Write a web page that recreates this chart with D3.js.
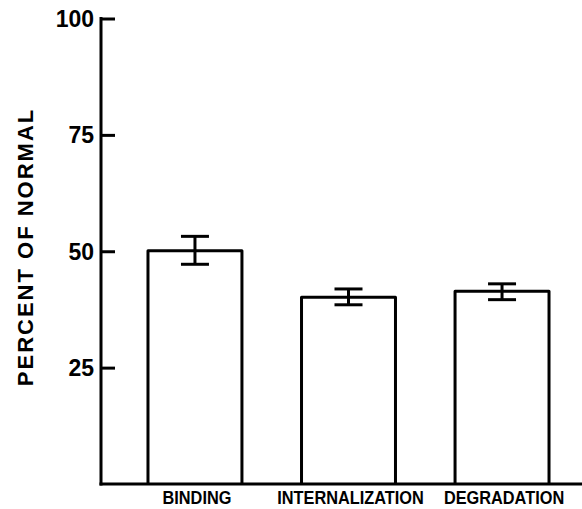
<!DOCTYPE html>
<html><head><meta charset="utf-8">
<script src="https://cdn.jsdelivr.net/npm/d3@7"></script>
<style>body{margin:0;background:#fff}svg{display:block}</style>
</head><body>
<svg id="c" width="582" height="509"></svg>
<script>
const categories = ["BINDING", "INTERNALIZATION", "DEGRADATION"];
const values = [50.1, 40.1, 41.4];
const errLow = [47.2, 38.5, 39.6];
const errHigh = [53.2, 41.9, 43.0];
const yTicks = [25, 50, 75, 100];
const yLabel = "PERCENT OF NORMAL";

const svg = d3.select("#c");
const axisX = 101;
const y = d3.scaleLinear().domain([0, 100]).range([484, 18.5]);
const x = d3.scaleBand().domain(categories).range([axisX, 596]).paddingInner(0.388).paddingOuter(0.306);

const g = svg.append("g");
// y axis
const yAxis = d3.axisRight(y).tickValues(yTicks).tickSize(14).tickFormat("");
const ya = g.append("g").attr("transform", `translate(${axisX},0)`).call(yAxis);
ya.select(".domain").remove();
ya.selectAll(".tick line").attr("stroke", "#000").attr("stroke-width", 3);
g.append("line").attr("x1", axisX).attr("x2", axisX).attr("y1", y(100) - 1.5).attr("y2", y(0) + 1.5)
  .attr("stroke", "#000").attr("stroke-width", 3);
g.selectAll(".ylab").data(yTicks).join("text")
  .attr("x", axisX - 7).attr("y", d => y(d)).attr("dy", "0.36em")
  .attr("text-anchor", "end").attr("font-family", "Liberation Sans, Arial, sans-serif")
  .attr("font-weight", "bold").attr("font-size", 23).text(d => d);

// bars
g.selectAll(".bar").data(categories).join("path")
  .attr("d", (d, i) => {
    const x0 = x(d), x1 = x(d) + x.bandwidth();
    return `M${x0},${y(0)}V${y(values[i])}H${x1}V${y(0)}`;
  })
  .attr("fill", "none").attr("stroke", "#000").attr("stroke-width", 3).attr("stroke-linejoin", "round");

// baseline
g.append("line").attr("x1", axisX - 1.5).attr("x2", 582).attr("y1", y(0)).attr("y2", y(0))
  .attr("stroke", "#000").attr("stroke-width", 3);

// error bars
categories.forEach((c, i) => {
  const cx = x(c) + x.bandwidth() / 2;
  const eg = g.append("g").attr("stroke", "#000").attr("stroke-width", 3);
  eg.append("line").attr("x1", cx).attr("x2", cx).attr("y1", y(errHigh[i])).attr("y2", y(errLow[i]));
  eg.append("line").attr("x1", cx - 14).attr("x2", cx + 14).attr("y1", y(errHigh[i])).attr("y2", y(errHigh[i]));
  eg.append("line").attr("x1", cx - 14).attr("x2", cx + 14).attr("y1", y(errLow[i])).attr("y2", y(errLow[i]));
});

// category labels (condensed look)
g.selectAll(".xlab").data(categories).join("text")
  .attr("transform", d => `translate(${x(d) + x.bandwidth() / 2 + 2},504) scale(0.86,1)`)
  .attr("text-anchor", "middle")
  .attr("font-family", "Liberation Sans, Arial, sans-serif")
  .attr("font-weight", "bold").attr("font-size", 19).text(d => d);

// y label
g.append("text").attr("transform", `translate(33,247) rotate(-90)`)
  .attr("text-anchor", "middle").attr("font-family", "Liberation Sans, Arial, sans-serif")
  .attr("font-size", 22).attr("font-weight", "bold").attr("letter-spacing", 2).text(yLabel);
</script>
</body></html>
